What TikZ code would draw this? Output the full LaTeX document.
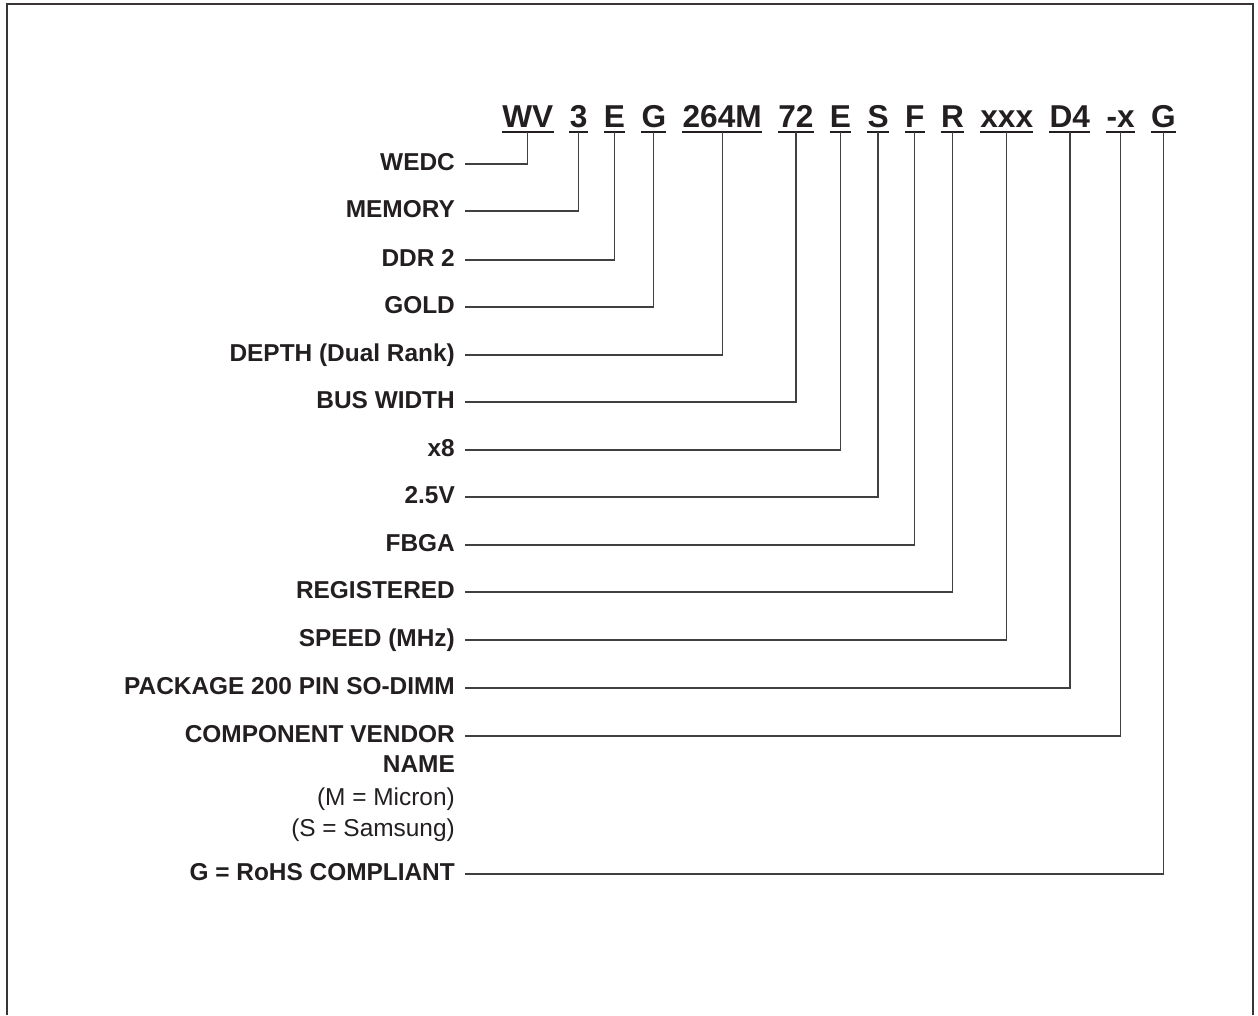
\documentclass[tikz,border=0pt]{standalone}
\usepackage{fontspec}
\setmainfont{Liberation Sans}
\usepackage{xcolor}
\usetikzlibrary{positioning}

\definecolor{inkblk}{HTML}{231F20}
\definecolor{wiregray}{HTML}{404040}

\begin{document}
\begin{tikzpicture}[
    x=0.02cm, y=-0.02cm,
    node distance=9pt,
    codepart/.style={inner xsep=0pt, inner ysep=2.8pt, text depth=0pt, text=inkblk,
                     font=\fontsize{18}{20}\selectfont\bfseries},
    lbl/.style={anchor=east, inner xsep=5.6pt, inner ysep=0pt, text height=0.716em,
                text depth=0pt, text=inkblk, font=\fontsize{13.9}{16}\selectfont\bfseries},
    sublbl/.style={lbl, font=\fontsize{13.9}{16}\selectfont},
    uline/.style={draw=inkblk, line width=1.2pt},
    link/.style={draw=wiregray, line width=0.75pt},
    frame/.style={draw=inkblk!90, line width=1.1pt}
]
\useasboundingbox (0,0) rectangle (1258,1015);

%% ===== OUTER FRAME (open at the bottom) =====
\draw[frame] (7,1015) -- (7,4) -- (1253,4) -- (1253,1015);

%% ===== PART NUMBER, left to right =====
\node[codepart, anchor=base west] (cWV) at (502,127) {WV};
\node[codepart, base right=of cWV]   (cMem)  {3};
\node[codepart, base right=of cMem]  (cDdr)  {E};
\node[codepart, base right=of cDdr]  (cGold) {G};
\node[codepart, base right=of cGold] (cDep)  {264M};
\node[codepart, base right=of cDep]  (cBus)  {72};
\node[codepart, base right=of cBus]  (cOrg)  {E};
\node[codepart, base right=of cOrg]  (cVolt) {S};
\node[codepart, base right=of cVolt] (cPkg)  {F};
\node[codepart, base right=of cPkg]  (cReg)  {R};
\node[codepart, base right=of cReg]  (cSpd)  {xxx};
\node[codepart, base right=of cSpd]  (cDimm) {D4};
\node[codepart, base right=of cDimm] (cVnd)  {-x};
\node[codepart, base right=of cVnd]  (cRohs) {G};

%% underlines
\foreach \c in {cWV,cMem,cDdr,cGold,cDep,cBus,cOrg,cVolt,cPkg,cReg,cSpd,cDimm,cVnd,cRohs}
  \draw[uline] (\c.south west) -- (\c.south east);

%% ===== LABELS (right aligned) =====
\node[lbl] (lWedc)  at (465,164) {WEDC};
\node[lbl] (lMem)   at (465,211) {MEMORY};
\node[lbl] (lDdr)   at (465,260) {DDR 2};
\node[lbl] (lGold)  at (465,307) {GOLD};
\node[lbl] (lDep)   at (465,355) {DEPTH (Dual Rank)};
\node[lbl] (lBus)   at (465,402) {BUS WIDTH};
\node[lbl] (lOrg)   at (465,450) {x8};
\node[lbl] (lVolt)  at (465,497) {2.5V};
\node[lbl] (lPkg)   at (465,545) {FBGA};
\node[lbl] (lReg)   at (465,592) {REGISTERED};
\node[lbl] (lSpd)   at (465,640) {SPEED (MHz)};
\node[lbl] (lDimm)  at (465,688) {PACKAGE 200 PIN SO-DIMM};
\node[lbl] (lVnd)   at (465,736) {COMPONENT VENDOR};
\node[lbl] (lVnd2)  at (465,766) {NAME};
\node[sublbl] (lMic) at (465,799) {(M = Micron)};
\node[sublbl] (lSam) at (465,830) {(S = Samsung)};
\node[lbl] (lRohs)  at (465,874) {G = RoHS COMPLIANT};

%% ===== CONNECTORS =====
\draw[link] (lWedc.east) -| (cWV.south);
\draw[link] (lMem.east)  -| (cMem.south);
\draw[link] (lDdr.east)  -| (cDdr.south);
\draw[link] (lGold.east) -| (cGold.south);
\draw[link] (lDep.east)  -| (cDep.south);
\draw[link] (lBus.east)  -| (cBus.south);
\draw[link] (lOrg.east)  -| (cOrg.south);
\draw[link] (lVolt.east) -| (cVolt.south);
\draw[link] (lPkg.east)  -| (cPkg.south);
\draw[link] (lReg.east)  -| (cReg.south);
\draw[link] (lSpd.east)  -| (cSpd.south);
\draw[link] (lDimm.east) -| (cDimm.south);
\draw[link] (lVnd.east)  -| (cVnd.south);
\draw[link] (lRohs.east) -| (cRohs.south);

\end{tikzpicture}
\end{document}
